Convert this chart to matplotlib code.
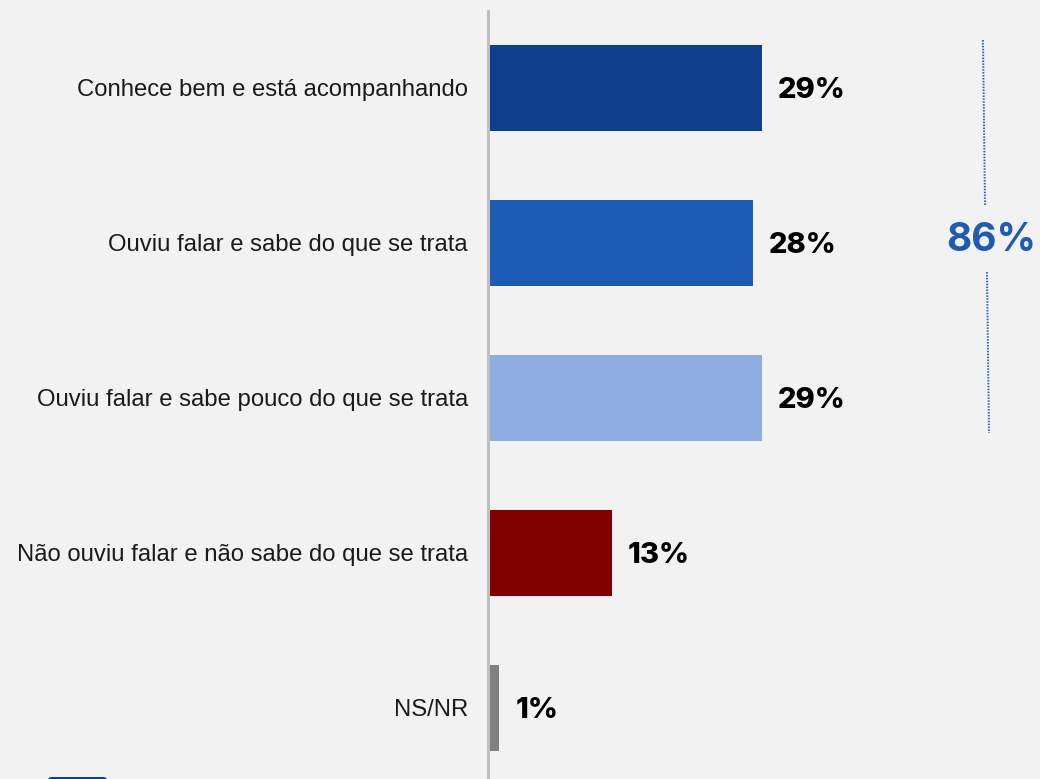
import matplotlib
matplotlib.use("Agg")
import matplotlib.pyplot as plt
from matplotlib.patches import FancyBboxPatch
from matplotlib.lines import Line2D

categories = [
    "Conhece bem e está acompanhando",
    "Ouviu falar e sabe do que se trata",
    "Ouviu falar e sabe pouco do que se trata",
    "Não ouviu falar e não sabe do que se trata",
    "NS/NR",
]
values = [29, 28, 29, 13, 1]
colors = ["#0F3F8C", "#1B5BB5", "#8FADE0", "#800000", "#808080"]
total_label = "86%"

W, H = 1040, 779
bg = "#F2F2F2"
fig = plt.figure(figsize=(W / 100, H / 100), dpi=100, facecolor=bg)

# axes: zero of the value scale sits at x=490 px, rows span from y=11 px to the bottom
ax = fig.add_axes([490 / W, 0, 1 - 490 / W, 1 - 11 / H])
ax.set_facecolor(bg)
px_per_unit = 9.38
ax.set_xlim(0, (W - 490) / px_per_unit)
ax.set_ylim(4 + 71 / 155, -77 / 155)

ypos = list(range(len(categories)))
ax.barh(ypos, values, height=0.555, color=colors, zorder=2)

for y, v in zip(ypos, values):
    ax.text(v + 16 / px_per_unit, y + 0.015, f"{v}%", va="center", ha="left",
            fontsize=21, fontweight="heavy", family="Inter", color="#000000")

for y, c in zip(ypos, categories):
    ax.text(-22 / px_per_unit, y + 0.015, c, va="center", ha="right",
            fontsize=17.2, family=["Liberation Sans", "DejaVu Sans"],
            color="#1A1A1A", clip_on=False)

for s in ax.spines.values():
    s.set_visible(False)
ax.set_xticks([])
ax.set_yticks([])

# vertical axis line
fig.add_artist(Line2D([488 / W, 488 / W], [0, 1 - 11 / H], color="#BFBFBF", lw=2.2))

# bracket for the aggregated share of the first three rows
dot_kw = dict(color="#2F62C8", lw=1.4, linestyle=(0, (0.8, 0.7)))
fig.add_artist(Line2D([983 / W, 985 / W], [1 - 40 / H, 1 - 205 / H], **dot_kw))
fig.add_artist(Line2D([987 / W, 989 / W], [1 - 272 / H, 1 - 433 / H], **dot_kw))
fig.text(991 / W, 1 - 240 / H, total_label, ha="center", va="center",
         fontsize=28, fontweight="bold", family="Inter", color="#1F5BB5")

# small badge at the lower-left edge
fig.add_artist(FancyBboxPatch((48 / W, -10 / H), 59 / W, 12 / H,
                              boxstyle="round,pad=0,rounding_size=0.004",
                              transform=fig.transFigure, color="#0F3F8C", lw=0))

fig.savefig("out.png", dpi=100, facecolor=bg)
